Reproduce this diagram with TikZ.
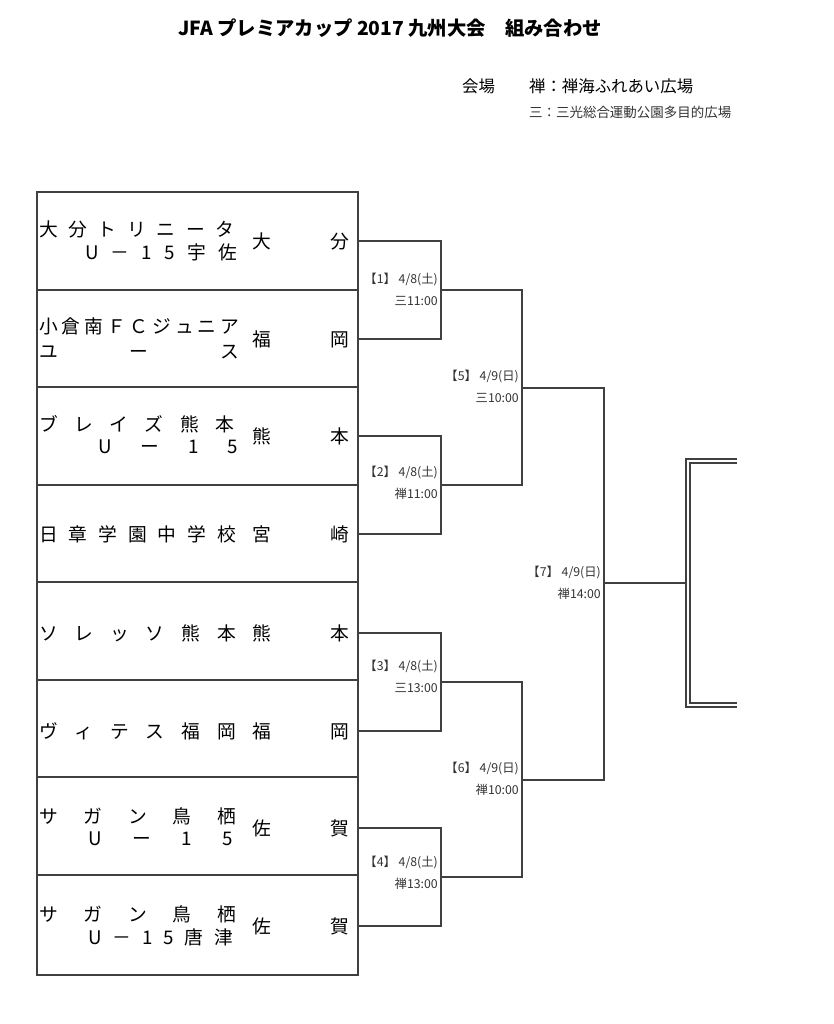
\documentclass[tikz,border=0pt]{standalone}
\usepackage{fontspec}
\setmainfont{Noto Sans CJK JP}
\newfontfamily\jp{Noto Sans CJK JP}
\usetikzlibrary{calc}
\tikzset{line/.style={draw=black!75, line width=0.9pt},
  team/.style={font=\jp\fontsize{16}{16}\selectfont, inner sep=0pt, anchor=west},
  pref/.style={font=\jp\fontsize{16}{16}\selectfont, inner sep=0pt, anchor=west},
  info/.style={font=\jp\fontsize{10.5}{10.5}\selectfont, inner sep=0pt, anchor=east, text=black!80}}
\newcommand{\spread}[2]{\makebox[#1][s]{#2}}
\newcommand{\match}[5]{\node[info] (#1a) at (#2, #3) {#4}; \node[info] (#1b) at (#2, #3+22) {#5};}

\begin{document}
\begin{tikzpicture}[x=0.03cm, y=-0.03cm]
        \useasboundingbox (0,0) rectangle (834,1024);
        % title
        \node[font=\jp\bfseries\fontsize{16.5}{16.5}\selectfont] (title) at (390,28) {JFA プレミアカップ 2017 九州大会　組み合わせ};
        \begin{scope}
        \clip (0,0) rectangle (737,1024);
        \node[font=\jp\fontsize{14}{14}\selectfont, anchor=west] (venue) at (458,86) {会場};
        \node[font=\jp\fontsize{14}{14}\selectfont, anchor=west] (zen) at (525,86) {禅：禅海ふれあい広場};
        \node[font=\jp\fontsize{11.5}{11.5}\selectfont, anchor=west, text=black!80] (san) at (525,112) {三：三光総合運動公園多目的広場};
        \end{scope}
        % team boxes
        \draw[line] (37,192) rectangle (358,975);
        \foreach \y in {290,387,485,582,680,777,875}
            \draw[line] (37,\y) -- (358,\y);
        % row1
        \node[team] (n1a) at (39,229) {\spread{5.85cm}{大\hfill 分\hfill ト\hfill リ\hfill ニ\hfill ー\hfill タ}};
        \node[team] (n1b) at (85,252) {\spread{4.55cm}{U\hfill －\hfill 1\hfill 5\hfill 宇\hfill 佐}};
        \node[pref] (p1) at (252,241) {\spread{2.9cm}{大\hfill 分}};
        % row2
        \node[team] (n2a) at (39,326) {\spread{6cm}{小\hfill 倉\hfill 南\hfill Ｆ\hfill Ｃ\hfill ジ\hfill ュ\hfill ニ\hfill ア}};
        \node[team] (n2b) at (39,352) {\spread{6cm}{ユ\hfill ー\hfill ス}};
        \node[pref] (p2) at (252,339) {\spread{2.9cm}{福\hfill 岡}};
        % row3
        \node[team] (n3a) at (39,424) {\spread{5.85cm}{ブ\hfill レ\hfill イ\hfill ズ\hfill 熊\hfill 本}};
        \node[team] (n3b) at (98,447) {\spread{4.2cm}{U\hfill ー\hfill 1\hfill 5}};
        \node[pref] (p3) at (252,436) {\spread{2.9cm}{熊\hfill 本}};
        % row4
        \node[team] (n4a) at (39,534) {\spread{5.9cm}{日\hfill 章\hfill 学\hfill 園\hfill 中\hfill 学\hfill 校}};
        \node[pref] (p4) at (252,534) {\spread{2.9cm}{宮\hfill 崎}};
        % row5
        \node[team] (n5a) at (39,633) {\spread{5.9cm}{ソ\hfill レ\hfill ッ\hfill ソ\hfill 熊\hfill 本}};
        \node[pref] (p5) at (252,633) {\spread{2.9cm}{熊\hfill 本}};
        % row6
        \node[team] (n6a) at (39,731) {\spread{5.9cm}{ヴ\hfill ィ\hfill テ\hfill ス\hfill 福\hfill 岡}};
        \node[pref] (p6) at (252,731) {\spread{2.9cm}{福\hfill 岡}};
        % row7
        \node[team] (n7a) at (39,816) {\spread{5.9cm}{サ\hfill ガ\hfill ン\hfill 鳥\hfill 栖}};
        \node[team] (n7b) at (88,839) {\spread{4.35cm}{U\hfill ー\hfill 1\hfill 5}};
        \node[pref] (p7) at (252,828) {\spread{2.9cm}{佐\hfill 賀}};
        % row8
        \node[team] (n8a) at (39,914) {\spread{5.9cm}{サ\hfill ガ\hfill ン\hfill 鳥\hfill 栖}};
        \node[team] (n8b) at (88,937) {\spread{4.35cm}{U\hfill －\hfill 1\hfill 5\hfill 唐\hfill 津}};
        \node[pref] (p8) at (252,926) {\spread{2.9cm}{佐\hfill 賀}};
        % bracket points
        \foreach \i/\y in {1/241,2/339,3/436,4/534,5/633,6/731,7/828,8/926}
            \coordinate (t\i) at (358,\y);
        \coordinate (r1) at (441,290); \coordinate (r2) at (441,485);
        \coordinate (r3) at (441,682); \coordinate (r4) at (441,877);
        \coordinate (s1) at (522,388); \coordinate (s2) at (522,780);
        \coordinate (f) at (604,583);
        \coordinate (w) at (686,583);
        % round 1
        \draw[line] (t1) -| (r1) |- (t2);
        \draw[line] (t3) -| (r2) |- (t4);
        \draw[line] (t5) -| (r3) |- (t6);
        \draw[line] (t7) -| (r4) |- (t8);
        % round 2
        \draw[line] (r1) -| (s1) |- (r2);
        \draw[line] (r3) -| (s2) |- (r4);
        % round 3
        \draw[line] (s1) -| (f) |- (s2);
        \draw[line] (f) -- (w);
        % winner box
        \draw[line, line width=1.2pt, double, double distance=2pt] (737,461) -| (688,705) -- (737,705);
        % labels
        \match{m1}{438}{279}{【1】 4/8(土)}{三11:00}
        \match{m2}{438}{472}{【2】 4/8(土)}{禅11:00}
        \match{m3}{438}{666}{【3】 4/8(土)}{三13:00}
        \match{m4}{438}{862}{【4】 4/8(土)}{禅13:00}
        \match{m5}{519}{376}{【5】 4/9(日)}{三10:00}
        \match{m6}{519}{768}{【6】 4/9(日)}{禅10:00}
        \match{m7}{601}{572}{【7】 4/9(日)}{禅14:00}
    \end{tikzpicture}
\end{document}
